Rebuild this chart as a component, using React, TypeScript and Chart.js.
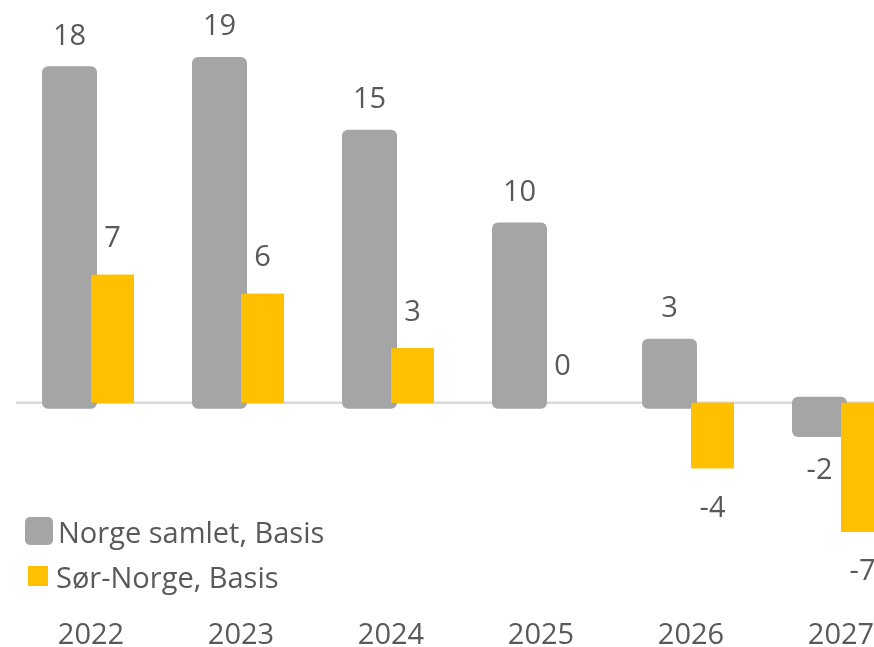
import React, { useEffect, useRef } from "react";
import { Chart, registerables } from "chart.js";

Chart.register(...registerables);

const categories = ["2022", "2023", "2024", "2025", "2026", "2027"];
const seriesNames = ["Norge samlet, Basis", "Sør-Norge, Basis"];
const norgeSamlet = [18.2, 18.7, 14.7, 9.6, 3.2, -1.55];
const sorNorge = [7.05, 6.0, 3.0, 0, -3.6, -7.1];
const colors = ["#A5A5A5", "#FFC000"];

const FONT = "'Open Sans', sans-serif";
const TEXT = "#595959";

export default function App() {
  const ref = useRef<HTMLCanvasElement | null>(null);

  useEffect(() => {
    if (!ref.current) return;
    const overlay = {
      id: "overlay",
      beforeDatasetsDraw(chart: any) {
        const { ctx, chartArea } = chart;
        const y0 = chart.scales.y.getPixelForValue(0);
        ctx.save();
        ctx.strokeStyle = "#D9D9D9";
        ctx.lineWidth = 2.5;
        ctx.beginPath();
        ctx.moveTo(chartArea.left, y0);
        ctx.lineTo(chartArea.right, y0);
        ctx.stroke();
        ctx.restore();
      },
      afterDatasetsDraw(chart: any) {
        const { ctx } = chart;
        // yellow bars drawn over the gray ones
        chart.getDatasetMeta(1).data.forEach((el: any) => el.draw(ctx, chart.chartArea));
        ctx.save();
        ctx.font = `29px ${FONT}`;
        ctx.fillStyle = TEXT;
        ctx.textAlign = "center";
        ctx.textBaseline = "alphabetic";
        chart.data.datasets.forEach((ds: any, di: number) => {
          const meta = chart.getDatasetMeta(di);
          meta.data.forEach((el: any, i: number) => {
            const v = ds.data[i] as number;
            const cy = v >= 0 ? el.y - 38 : el.y + 38;
            const r = Math.round(v);
            ctx.fillText(String(r === 0 ? 0 : r), el.x, cy + 10.4);
          });
        });
        ctx.restore();
      },
    };

    const chart = new Chart(ref.current, {
      type: "bar",
      data: {
        labels: categories,
        datasets: [
          {
            label: seriesNames[0],
            data: norgeSamlet,
            backgroundColor: colors[0],
            borderWidth: 0,
            borderRadius: 6,
            borderSkipped: false,
            inflateAmount: 6,
            categoryPercentage: 86 / 150,
            barPercentage: 1,
          },
          {
            label: seriesNames[1],
            data: sorNorge,
            backgroundColor: colors[1],
            borderWidth: 0,
            inflateAmount: 0,
            categoryPercentage: 86 / 150,
            barPercentage: 1,
          },
        ],
      },
      options: {
        responsive: false,
        maintainAspectRatio: false,
        animation: false,
        layout: { padding: { left: 16, right: 24, top: 3.1, bottom: 7.9 } },
        plugins: { legend: { display: false }, tooltip: { enabled: false } },
        scales: {
          x: {
            grid: { display: false },
            border: { display: false },
            ticks: {
              color: TEXT,
              font: { family: FONT, size: 29 },
              padding: 44,
            },
          },
          y: { display: false, min: -9, max: 22 },
        },
      },
      plugins: [overlay],
    } as any);
    return () => chart.destroy();
  }, []);

  return (
    <div
      style={{
        position: "absolute",
        left: 0,
        top: 0,
        width: 874,
        height: 647,
        overflow: "hidden",
        background: "#fff",
      }}
    >
      <canvas ref={ref} width={940} height={705} style={{ display: "block" }} />
      {[
        { top: 517, h: 28, left: 25, size: 28, radius: 5, gap: 5 },
        { top: 566, h: 20, left: 28, size: 20, radius: 0, gap: 8 },
      ].map((it, i) => (
        <div
          key={i}
          style={{
            position: "absolute",
            left: it.left,
            top: it.top,
            height: it.h,
            display: "flex",
            alignItems: "center",
            fontFamily: FONT,
            fontSize: 29,
            lineHeight: 1,
            color: TEXT,
            whiteSpace: "nowrap",
          }}
        >
          <span
            style={{
              display: "inline-block",
              width: it.size,
              height: it.size,
              background: colors[i],
              borderRadius: it.radius,
              marginRight: it.gap,
            }}
          />
          <span>{seriesNames[i]}</span>
        </div>
      ))}
    </div>
  );
}
